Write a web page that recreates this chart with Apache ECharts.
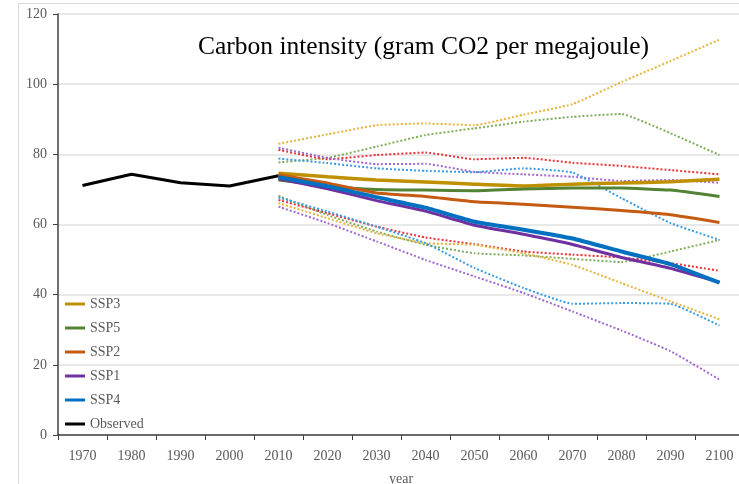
<!DOCTYPE html>
<html>
<head>
<meta charset="utf-8">
<script src="https://cdn.jsdelivr.net/npm/echarts@6/dist/echarts.min.js"></script>
<style>
html,body{margin:0;padding:0;background:#fff;}
#chart{width:739px;height:484px;}
</style>
</head>
<body>
<div id="chart"></div>
<script>
var years = ['1970','1980','1990','2000','2010','2020','2030','2040','2050','2060','2070','2080','2090','2100'];
var yTicks = [0, 20, 40, 60, 80, 100, 120];
// Observed 1970-2010
var observed = [71.1, 74.3, 71.9, 71.0, 73.9];
// Scenario values 2010-2100
var ssp3 = [74.6, 73.6, 72.7, 72.1, 71.5, 71.0, 71.5, 71.8, 72.2, 72.9];
var ssp5 = [72.7, 71.0, 70.0, 69.8, 69.6, 70.1, 70.4, 70.4, 69.8, 68.0];
var ssp2 = [74.2, 71.8, 69.0, 68.0, 66.5, 65.8, 64.9, 64.0, 62.8, 60.6];
var ssp1 = [73.0, 70.2, 66.8, 63.8, 59.8, 57.2, 54.3, 50.6, 47.5, 43.5];
var ssp4 = [73.5, 70.9, 67.8, 64.8, 60.8, 58.5, 56.0, 52.3, 48.7, 43.4];
// Dotted model variants 2010-2100
var goldHi   = [83.0, 85.7, 88.3, 88.8, 88.3, 91.3, 94.3, 100.6, 106.6, 112.7];
var greenHi  = [77.7, 79.0, 82.2, 85.5, 87.4, 89.3, 90.7, 91.5, 86.0, 79.8];
var redHi    = [81.3, 78.6, 79.8, 80.5, 78.6, 79.0, 77.6, 76.7, 75.5, 74.3];
var purpleHi = [81.9, 79.0, 77.2, 77.3, 75.0, 74.3, 73.6, 72.4, 72.7, 71.9];
var blueHi   = [78.8, 77.5, 76.0, 75.3, 74.9, 76.0, 74.8, 67.5, 60.4, 55.6];
var greenLo  = [68.2, 62.7, 58.0, 54.2, 51.8, 51.2, 50.2, 49.3, 52.3, 55.6];
var redLo    = [67.0, 63.2, 59.4, 56.3, 54.4, 52.3, 51.4, 50.6, 49.0, 46.8];
var goldLo   = [66.1, 61.8, 57.5, 54.7, 54.2, 51.8, 48.5, 43.3, 38.1, 33.0];
var blueLo   = [67.7, 63.7, 59.4, 54.7, 47.6, 41.9, 37.4, 37.6, 37.4, 31.2];
var purpleLo = [65.1, 60.4, 55.2, 49.9, 45.2, 40.5, 35.2, 29.8, 23.9, 15.8];

var FONT = 'Liberation Serif';
function pad(arr){ // place scenario values starting at 2010
  var out = [];
  for (var i = 0; i < years.length; i++) out.push(i < 4 ? null : arr[i - 4]);
  return out;
}
function padObs(arr){
  var out = [];
  for (var i = 0; i < years.length; i++) out.push(i < arr.length ? arr[i] : null);
  return out;
}
function solid(name, data, color, w, sm){
  return {name: name, type: 'line', data: data, symbol: 'none', smooth: sm === undefined ? 0.12 : sm, z: 5,
    color: color, lineStyle: {color: color, width: w || 3.5}};
}
function dotted(name, data, color){
  return {name: name, type: 'line', data: pad(data), symbol: 'none', smooth: 0.12, z: 3,
    color: color, lineStyle: {color: color, width: 2, type: [2, 2]}};
}

var chart = echarts.init(document.getElementById('chart'));
chart.setOption({
  animation: false,
  backgroundColor: '#fff',
  title: {
    text: 'Carbon intensity (gram CO2 per megajoule)',
    left: 193, top: 29,
    textStyle: {fontFamily: FONT, fontSize: 25.5, fontWeight: 'normal', color: '#000'}
  },
  graphic: [
    {type: 'line', shape: {x1: 18.5, y1: 3.5, x2: 18.5, y2: 484}, style: {stroke: '#d9d9d9', lineWidth: 1}, silent: true},
    {type: 'line', shape: {x1: 18.5, y1: 3.5, x2: 739, y2: 3.5}, style: {stroke: '#d9d9d9', lineWidth: 1}, silent: true}
  ],
  legend: {
    orient: 'vertical', left: 60, top: 292,
    itemWidth: 20, itemHeight: 3, itemGap: 10, icon: 'rect',
    data: ['SSP3', 'SSP5', 'SSP2', 'SSP1', 'SSP4', 'Observed'],
    textStyle: {fontFamily: FONT, fontSize: 14, color: '#595959'}
  },
  grid: {left: 58, top: 14, width: 686, height: 421, containLabel: false, outerBoundsMode: 'none'},
  xAxis: {
    type: 'category', data: years, boundaryGap: true,
    name: 'year', nameLocation: 'middle', nameGap: 37,
    nameTextStyle: {fontFamily: FONT, fontSize: 14, color: '#595959'},
    axisLine: {lineStyle: {color: '#404040', width: 1.5}},
    axisTick: {show: true, length: 5, lineStyle: {color: '#404040'}},
    axisLabel: {fontFamily: FONT, fontSize: 14, color: '#595959', margin: 14},
    splitLine: {show: false}
  },
  yAxis: {
    type: 'value', min: yTicks[0], max: yTicks[yTicks.length - 1], interval: 20,
    axisLine: {show: true, lineStyle: {color: '#404040', width: 1.5}},
    axisTick: {show: true, length: 5, lineStyle: {color: '#404040'}},
    axisLabel: {fontFamily: FONT, fontSize: 14, color: '#595959', margin: 11},
    splitLine: {lineStyle: {color: '#e0e0e0', width: 1.5}}
  },
  series: [
    dotted('SSP3 high', goldHi, '#E6B43C'),
    dotted('SSP5 high', greenHi, '#7FAE5A'),
    dotted('SSP2 high', redHi, '#E8333A'),
    dotted('SSP1 high', purpleHi, '#A068D0'),
    dotted('SSP4 high', blueHi, '#3A9BE0'),
    dotted('SSP5 low', greenLo, '#7FAE5A'),
    dotted('SSP2 low', redLo, '#E8333A'),
    dotted('SSP3 low', goldLo, '#E6B43C'),
    dotted('SSP4 low', blueLo, '#3A9BE0'),
    dotted('SSP1 low', purpleLo, '#A068D0'),
    solid('SSP3', pad(ssp3), '#BF9000'),
    solid('SSP5', pad(ssp5), '#548235', 3),
    solid('SSP2', pad(ssp2), '#C55A11', 3),
    solid('SSP1', pad(ssp1), '#7030A0', 3),
    solid('SSP4', pad(ssp4), '#0070C0', 4),
    solid('Observed', padObs(observed), '#000000', 3, false)
  ]
});
</script>
</body>
</html>
